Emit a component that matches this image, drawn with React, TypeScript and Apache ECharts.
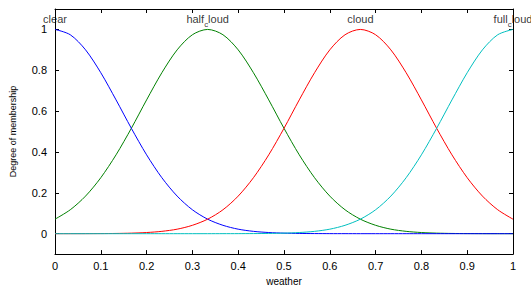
import React, { useEffect, useRef } from "react";
import * as echarts from "echarts";

const xs = [
  0, 0.0333, 0.0667, 0.1, 0.1333, 0.1667, 0.2, 0.2333, 0.2667, 0.3, 0.3333,
  0.3667, 0.4, 0.4333, 0.4667, 0.5, 0.5333, 0.5667, 0.6, 0.6333, 0.6667,
  0.7, 0.7333, 0.7667, 0.8, 0.8333, 0.8667, 0.9, 0.9333, 0.9667, 1,
];

const clear = [
  1, 0.974, 0.9, 0.788, 0.655, 0.516, 0.386, 0.274, 0.184, 0.117, 0.071,
  0.041, 0.022, 0.0114, 0.0056, 0.0026, 0.0011, 0.0005, 0.0002, 0.0001, 0,
  0, 0, 0, 0, 0, 0, 0, 0, 0, 0,
];
const halfCloud = [
  0.071, 0.117, 0.184, 0.274, 0.386, 0.516, 0.655, 0.788, 0.9, 0.974, 1,
  0.974, 0.9, 0.788, 0.655, 0.516, 0.386, 0.274, 0.184, 0.117, 0.071,
  0.041, 0.022, 0.0114, 0.0056, 0.0026, 0.0011, 0.0005, 0.0002, 0.0001, 0,
];
const cloud = [
  0, 0.0001, 0.0002, 0.0005, 0.0011, 0.0026, 0.0056, 0.0114, 0.022, 0.041, 0.071,
  0.117, 0.184, 0.274, 0.386, 0.516, 0.655, 0.788, 0.9, 0.974, 1,
  0.974, 0.9, 0.788, 0.655, 0.516, 0.386, 0.274, 0.184, 0.117, 0.071,
];
const fullCloud = [
  0, 0, 0, 0, 0, 0, 0, 0, 0, 0, 0,
  0.0001, 0.0002, 0.0005, 0.0011, 0.0026, 0.0056, 0.0114, 0.022, 0.041, 0.071,
  0.117, 0.184, 0.274, 0.386, 0.516, 0.655, 0.788, 0.9, 0.974, 1,
];

const mfNames = ["clear", "half_cloud", "cloud", "full_cloud"];
const mfLabelText = ["clear", "{a|half}{s|c}{a|loud}", "cloud", "{a|full}{s|c}{a|loud}"];
const mfCenters = [0, 0.3333, 0.6667, 1];
const labelY = 1.05;
const yTicks = [0, 0.2, 0.4, 0.6, 0.8, 1];

const FONT = "'Liberation Sans', Arial, Helvetica, sans-serif";

export default function App() {
  const ref = useRef<HTMLDivElement>(null);
  useEffect(() => {
    if (!ref.current) return;
    const chart = echarts.init(ref.current, undefined, { renderer: "svg" });
    const pair = (arr: number[]) => xs.map((x, i) => [x, arr[i]]);
    const lineSeries = (name: string, arr: number[], color: string, z: number) => ({
      type: "line",
      name,
      data: pair(arr),
      showSymbol: false,
      smooth: 0.3,
      z,
      lineStyle: { color, width: 1 },
      itemStyle: { color },
    });
    const axisLine = { show: true, onZero: false, lineStyle: { color: "#000", width: 1 } };
    chart.setOption({
      animation: false,
      backgroundColor: "#ffffff",
      grid: { left: 55, right: 18, top: 9, bottom: 27, containLabel: false },
      xAxis: [
        {
          type: "value",
          min: 0,
          max: 1,
          interval: 0.1,
          name: "weather",
          nameLocation: "middle",
          nameGap: 15,
          nameTextStyle: { fontFamily: FONT, fontSize: 10, color: "#000" },
          axisLine,
          axisTick: { inside: true, length: 4, lineStyle: { color: "#000" } },
          axisLabel: { fontFamily: FONT, fontSize: 11, color: "#000", margin: 6 },
          splitLine: { show: false },
        },
        {
          type: "value",
          position: "top",
          min: 0,
          max: 1,
          interval: 0.1,
          axisLine,
          axisTick: { inside: true, length: 4, lineStyle: { color: "#000" } },
          axisLabel: { show: false },
          splitLine: { show: false },
        },
      ],
      yAxis: [
        {
          type: "value",
          min: -0.1,
          max: 1.1,
          name: "Degree of membership",
          nameLocation: "middle",
          nameGap: 38,
          nameTextStyle: { fontFamily: FONT, fontSize: 9, color: "#000" },
          axisLine,
          axisTick: { show: true, inside: true, length: 4, customValues: yTicks, lineStyle: { color: "#000" } },
          axisLabel: {
            fontFamily: FONT,
            fontSize: 11,
            color: "#000",
            margin: 8,
            customValues: yTicks,
            formatter: (v: number) => String(Math.round(v * 10) / 10),
          },
          splitLine: { show: false },
        },
        {
          type: "value",
          position: "right",
          min: -0.1,
          max: 1.1,
          axisLine,
          axisTick: { show: true, inside: true, length: 4, customValues: yTicks, lineStyle: { color: "#000" } },
          axisLabel: { show: false },
          splitLine: { show: false },
        },
      ],
      series: [
        lineSeries(mfNames[1], halfCloud, "#008000", 2),
        lineSeries(mfNames[0], clear, "#0000ff", 3),
        lineSeries(mfNames[2], cloud, "#ff0000", 4),
        lineSeries(mfNames[3], fullCloud, "#00bfbf", 5),
        {
          type: "scatter",
          name: "labels",
          symbolSize: 0,
          silent: true,
          z: 10,
          data: mfCenters.map((c, i) => ({
            value: [c, labelY],
            label: {
              show: true,
              position: "inside",
              formatter: mfLabelText[i],
              fontFamily: FONT,
              fontSize: 11,
              color: "#000",
              rich: {
                a: { fontFamily: FONT, fontSize: 11, color: "#000", lineHeight: 13, verticalAlign: "top" },
                s: { fontFamily: FONT, fontSize: 8, color: "#000", lineHeight: 15, verticalAlign: "bottom" },
              },
              offset: mfLabelText[i].includes("{") ? [0, 1.5] : [0, 0],
            },
          })),
        },
      ],
    });
    return () => chart.dispose();
  }, []);
  return (
    <div
      ref={ref}
      style={{ position: "fixed", left: 0, top: 0, width: 531, height: 291, background: "#fff" }}
    />
  );
}
